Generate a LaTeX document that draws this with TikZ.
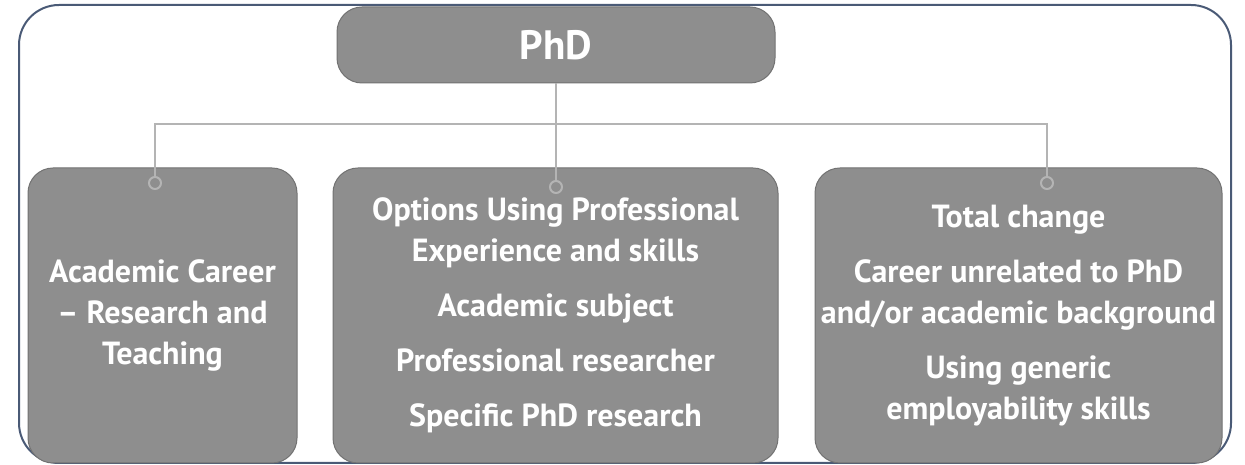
\documentclass[tikz,border=0pt]{standalone}
\usepackage{fontspec}
\setmainfont{PT Sans}
\definecolor{boxgray}{HTML}{8E8E8E}
\definecolor{boxedge}{HTML}{727272}
\definecolor{linegray}{HTML}{B4B4B4}
\definecolor{framecol}{HTML}{4A5A76}

\begin{document}
\begin{tikzpicture}[x=1pt,y=1pt,
    box/.style={draw=boxedge, line width=1pt, fill=boxgray, rounded corners=25pt,
        text=white, font=\bfseries\fontsize{32}{41}\selectfont, align=center, inner sep=0pt},
    ring/.style={circle, draw=linegray, line width=2pt, fill=boxgray, minimum size=12pt, inner sep=0pt},
    link/.style={draw=linegray, line width=2pt}]
        \useasboundingbox (0,0) rectangle (1245,465);
        % Draw outer frame
        \draw[framecol, line width=2pt, rounded corners=40pt] (19,2) rectangle (1231,460);
        % Top node
        \node[box, minimum width=438pt, minimum height=76pt, font=\bfseries\fontsize{41}{41}\selectfont] (phd) at (556,420) {PhD};
        % Three career boxes
        \node[box, minimum width=269pt, minimum height=295pt] (academic) at (162.5,149.5)
            {Academic Career\\– Research and\\Teaching};
        \node[box, minimum width=445pt, minimum height=295pt] (options) at (555.5,149.5)
            {Options Using Professional\\Experience and skills\\[14pt]Academic subject\\[14pt]Professional researcher\\[14pt]Specific PhD research};
        \node[box, minimum width=407pt, minimum height=295pt] (change) at (1018.5,149.5)
            {Total change\\[14pt]Career unrelated to PhD\\and/or academic background\\[14pt]Using generic\\employability skills};
        % Rings on top of the boxes
        \node[ring] (ringA) at (155,282) {};
        \node[ring] (ringB) at (556,278) {};
        \node[ring] (ringC) at (1047,282) {};
        \coordinate (bar) at (556,341);
        % Connectors
        \draw[link] (phd) -- (ringB);
        \draw[link] (ringA) -- (ringA |- bar) -- (ringC |- bar) -- (ringC);
\end{tikzpicture}
\end{document}
